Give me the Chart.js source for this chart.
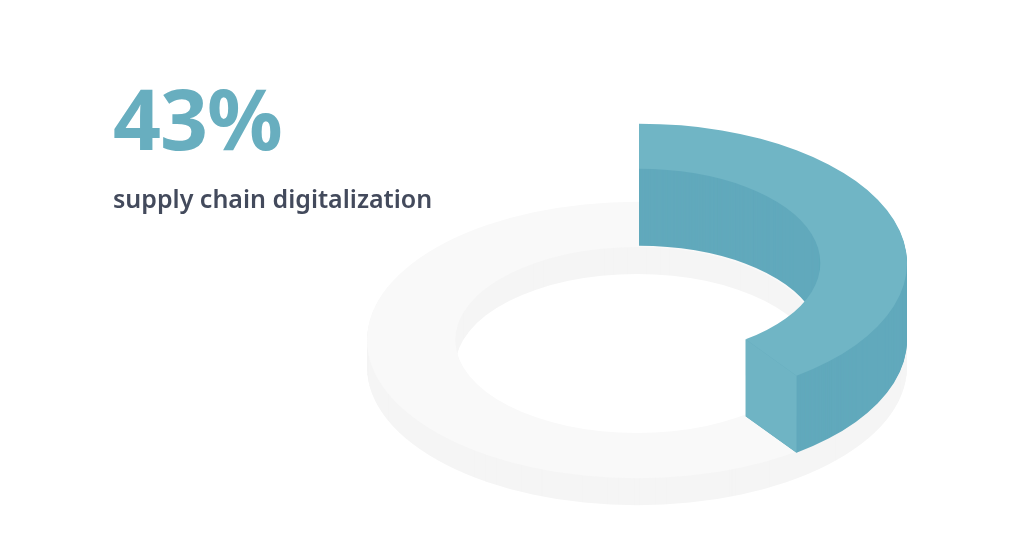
<!DOCTYPE html>
<html>
<head>
<meta charset="utf-8">
<script src="https://cdn.jsdelivr.net/npm/chart.js@4"></script>
<style>
  html, body { margin: 0; background: #fff; }
  #page { position: relative; width: 1024px; height: 535px; overflow: hidden; }
  canvas { position: absolute; left: 0; top: 0; }
  .txt { position: absolute; left: 113px; font-family: "Noto Sans", sans-serif; white-space: nowrap; }
  #big { top: 60px; font-size: 84px; line-height: 115px; font-weight: 700; color: #68aebf; letter-spacing: -1px; }
  #sub { top: 181px; font-size: 25px; line-height: 34px; font-weight: 600; color: #434a5c; }
</style>
</head>
<body>
<div id="page">
  <canvas id="ringChart" width="1024" height="535"></canvas>
  <canvas id="shareChart" width="1024" height="535"></canvas>
  <div class="txt" id="big">43%</div>
  <div class="txt" id="sub">supply chain digitalization</div>
</div>
<script>
  // values as drawn: the label says 43% but the slice in the picture sweeps about 40%
  const ringValues = [100];
  const shareValues = [40, 60];

  // squashes the doughnut into an ellipse and stacks copies of it to get the walls
  const extrude = {
    id: 'extrude',
    beforeDatasetDraw(chart, args, opts) {
      const ctx = chart.ctx;
      chart.getDatasetMeta(args.index).data.forEach(arc => {
        const fill = arc.options.backgroundColor;
        if (fill === 'transparent') return;

        const original = arc.options;
        const place = dy => {
          ctx.translate(opts.cx, opts.cy + dy);
          ctx.scale(1, opts.squash);
          ctx.translate(-arc.x, -arc.y);
        };

        arc.options = Object.assign({}, original, { backgroundColor: opts.wall });
        for (let dy = opts.depth; dy > 0; dy--) {
          ctx.save();
          place(dy);
          arc.draw(ctx);
          ctx.restore();
        }
        arc.options = original;

        // flat end of the slice, only the teal one has it
        if (opts.cap) {
          const a = arc.endAngle;
          const px = r => opts.cx + r * Math.cos(a);
          const py = r => opts.cy + r * Math.sin(a) * opts.squash;
          ctx.fillStyle = opts.cap;
          ctx.beginPath();
          ctx.moveTo(px(arc.innerRadius), py(arc.innerRadius));
          ctx.lineTo(px(arc.outerRadius), py(arc.outerRadius));
          ctx.lineTo(px(arc.outerRadius), py(arc.outerRadius) + opts.depth);
          ctx.lineTo(px(arc.innerRadius), py(arc.innerRadius) + opts.depth);
          ctx.closePath();
          ctx.fill();
        }

        ctx.save();
        place(0);
        arc.draw(ctx);
        ctx.restore();
      });
      return false;
    }
  };

  function makeDonut(id, values, colors, radius, cutout, extrudeOpts) {
    return new Chart(document.getElementById(id), {
      type: 'doughnut',
      data: {
        datasets: [{
          data: values,
          backgroundColor: colors,
          borderWidth: 0
        }]
      },
      options: {
        responsive: false,
        animation: false,
        radius: radius,
        cutout: cutout,
        events: [],
        plugins: {
          legend: { display: false },
          tooltip: { enabled: false },
          extrude: extrudeOpts
        }
      },
      plugins: [extrude]
    });
  }

  makeDonut('ringChart', ringValues, ['#f9f9f9'], 270, 180, {
    cx: 637, cy: 340, squash: 0.512, depth: 27, wall: '#f5f5f5'
  });
  makeDonut('shareChart', shareValues, ['#70b5c5', 'transparent'], 268, 181, {
    cx: 639, cy: 263, squash: 0.52, depth: 77, wall: '#61a9bc', cap: '#6fb4c4'
  });
</script>
</body>
</html>
